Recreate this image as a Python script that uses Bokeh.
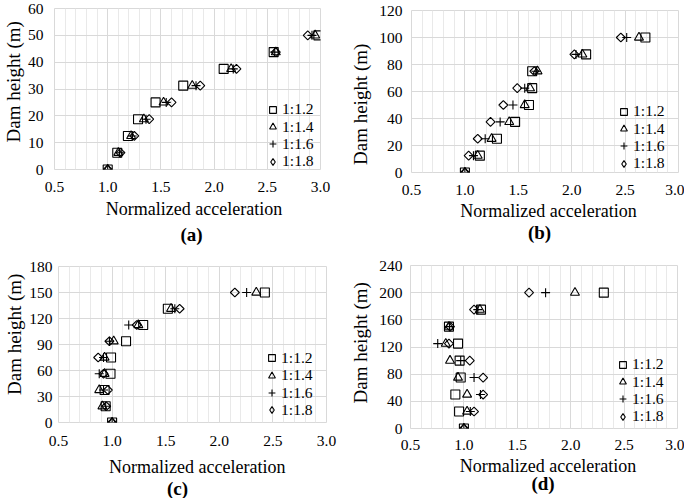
import math
from bokeh.plotting import figure
from bokeh.models import (FixedTicker, NumeralTickFormatter, Legend, LegendItem,
                          Label, Title, ColumnDataSource)
from bokeh.layouts import column, row
from bokeh.embed import file_html
from bokeh.resources import INLINE

FONT = "Liberation Serif"

series_labels = ["1:1.2", "1:1.4", "1:1.6", "1:1.8"]
x_ticks = [0.5, 1.0, 1.5, 2.0, 2.5, 3.0]
x_label = "Normalized acceleration"
y_label = "Dam height (m)"

# ---- panel (a) ----
height_a = [0, 6.25, 12.5, 18.75, 25, 31.25, 37.5, 43.75, 50]
acc_a_12 = [1.00, 1.09, 1.19, 1.285, 1.45, 1.71, 2.09, 2.56, 2.98]
acc_a_14 = [1.00, 1.10, 1.22, 1.34, 1.525, 1.795, 2.16, 2.58, 2.95]
acc_a_16 = [1.00, 1.11, 1.23, 1.36, 1.55, 1.83, 2.18, 2.57, 2.92]
acc_a_18 = [1.00, 1.12, 1.25, 1.39, 1.60, 1.87, 2.21, 2.58, 2.88]
y_ticks_a = [0, 10, 20, 30, 40, 50, 60]

# ---- panel (b) ----
height_b = [0, 12.5, 25, 37.5, 50, 62.5, 75, 87.5, 100]
acc_b_12 = [1.00, 1.14, 1.30, 1.47, 1.60, 1.63, 1.63, 2.135, 2.69]
acc_b_14 = [1.00, 1.12, 1.25, 1.415, 1.56, 1.61, 1.68, 2.10, 2.63]
acc_b_16 = [1.00, 1.08, 1.19, 1.33, 1.45, 1.56, 1.665, 2.04, 2.515]
acc_b_18 = [1.00, 1.035, 1.12, 1.24, 1.36, 1.49, 1.65, 2.025, 2.46]
y_ticks_b = [0, 20, 40, 60, 80, 100, 120]

# ---- panel (c) ----
height_c = [0, 18.75, 37.5, 56.25, 75, 93.75, 112.5, 131.25, 150]
acc_c_12 = [1.00, 0.94, 0.93, 0.985, 0.99, 1.13, 1.29, 1.52, 2.425]
acc_c_14 = [1.00, 0.91, 0.88, 0.93, 0.93, 1.015, 1.245, 1.55, 2.345]
acc_c_16 = [1.00, 0.94, 0.92, 0.88, 0.92, 0.975, 1.155, 1.585, 2.255]
acc_c_18 = [1.00, 0.945, 0.96, 0.92, 0.87, 0.975, 1.23, 1.63, 2.145]
y_ticks_c = [0, 30, 60, 90, 120, 150, 180]

# ---- panel (d) ----
height_d = [0, 25, 50, 75, 100, 125, 150, 175, 200]
acc_d_12 = [1.00, 0.955, 0.92, 0.97, 0.96, 0.945, 0.86, 1.16, 2.31]
acc_d_14 = [1.00, 1.03, 1.03, 0.945, 0.87, 0.83, 0.86, 1.15, 2.04]
acc_d_16 = [1.00, 1.06, 1.155, 1.095, 0.97, 0.755, 0.865, 1.13, 1.765]
acc_d_18 = [1.00, 1.095, 1.18, 1.18, 1.055, 0.86, 0.87, 1.095, 1.61]
y_ticks_d = [0, 40, 80, 120, 160, 200, 240]

minor_x = [round(0.5 + 0.1 * i, 1) for i in range(26)]

MARKERS = [dict(marker="square", size=9, angle=0.0),
           dict(marker="triangle", size=9, angle=0.0),
           dict(marker="cross", size=9, angle=0.0),
           dict(marker="square", size=6.3, angle=math.pi / 4)]

LEG_PITCH = 17.3
LEG_FONT = "15.6px"


def strip(w, h, texts):
    """A plain figure used only to hold the texts under each chart.
    In the column its frame is aligned with the chart frame above it, so the
    x positions below are measured from the chart frame's left edge."""
    s = figure(width=w, height=h, x_range=(0, 1), y_range=(0, 1),
               output_backend="svg", toolbar_location=None, min_border=0,
               x_axis_type=None, y_axis_type=None)
    s.outline_line_color = None
    s.background_fill_color = "white"
    s.border_fill_color = "white"
    for (x, y, text, size, bold) in texts:
        s.add_layout(Label(x=x, y=y, x_units="screen", y_units="screen", text=text,
                           text_align="center", text_baseline="middle",
                           text_font=FONT, text_font_size=size, text_color="black",
                           text_font_style="bold" if bold else "normal"))
    return s


def main_plot(heights, series, y_ticks, fig_w, fig_h, left, top, fw, fh,
              tick_sy, tick_sx, ytitle_standoff, ytitle_offset, leg_x, leg_bottom):
    p = figure(width=fig_w, height=fig_h, x_range=(0.5, 3.0),
               y_range=(y_ticks[0], y_ticks[-1]), output_backend="svg",
               toolbar_location=None,
               min_border_left=left, min_border_top=top,
               min_border_right=fig_w - left - fw,
               min_border_bottom=fig_h - top - fh)
    p.background_fill_color = "white"
    p.border_fill_color = "white"
    p.outline_line_color = "#d9d9d9"
    p.outline_line_width = 1

    xt = FixedTicker(ticks=x_ticks, minor_ticks=minor_x)
    yt = FixedTicker(ticks=y_ticks)
    p.xaxis.ticker = xt
    p.yaxis.ticker = yt
    p.xgrid.ticker = xt
    p.ygrid.ticker = yt
    p.xaxis.formatter = NumeralTickFormatter(format="0.0")
    p.xgrid.grid_line_color = "#d9d9d9"
    p.xgrid.minor_grid_line_color = "#e9e9e9"
    p.ygrid.grid_line_color = "#d9d9d9"

    for ax in (p.xaxis, p.yaxis):
        ax.axis_line_color = None
        ax.major_tick_line_color = None
        ax.minor_tick_line_color = None
        ax.major_tick_out = 0
        ax.major_tick_in = 0
        ax.major_label_text_font = FONT
        ax.major_label_text_font_size = "15.5px"
        ax.major_label_text_color = "black"
    p.xaxis.major_label_standoff = tick_sx
    p.yaxis.major_label_standoff = tick_sy

    p.add_layout(Title(text=y_label, align="left", offset=ytitle_offset,
                       standoff=ytitle_standoff, text_font=FONT,
                       text_font_size="19px", text_font_style="normal",
                       text_color="black"), "left")

    for i, (lab, vals, mk) in enumerate(zip(series_labels, series, MARKERS)):
        src = ColumnDataSource(dict(x=vals, y=heights))
        r = p.scatter("x", "y", source=src, marker=mk["marker"], size=mk["size"],
                      angle=mk["angle"], fill_alpha=0, line_color="black",
                      line_width=1.1)
        if i == 3:
            # legend swatch for the diamond series (legend glyphs ignore angle)
            r = p.scatter("x", "y", source=src, marker="diamond", size=9,
                          fill_alpha=0, line_color="black", line_width=1.1,
                          visible=False)
        # one single-row legend per series, so the row pitch can be tight
        leg = Legend(items=[LegendItem(label=lab, renderers=[r])],
                     location=(leg_x, leg_bottom + (3 - i) * LEG_PITCH - 9.5),
                     border_line_color=None, background_fill_alpha=0,
                     padding=0, margin=0, spacing=0,
                     glyph_width=17, glyph_height=17, label_height=17,
                     label_standoff=1, label_text_font=FONT,
                     label_text_font_size=LEG_FONT, label_text_color="black",
                     inactive_fill_alpha=0)
        p.add_layout(leg)
    return p


def panel(tag, heights, series, y_ticks, W, H, left, top, fw, fh, bottom,
          tick_sy, tick_sx, yt_standoff, yt_offset, leg_x, leg_bottom, xlab, tagpos):
    hm = top + fh + bottom
    main = main_plot(heights, series, y_ticks, W, hm, left, top, fw, fh,
                     tick_sy, tick_sx, yt_standoff, yt_offset, leg_x, leg_bottom)
    xs = strip(W, H - hm, [(xlab[0], xlab[1], x_label, "18px", False),
                           (tagpos[0], tagpos[1], tag, "19px", True)])
    return column(main, xs)


# xlab/tag: (x from chart frame's left edge, y from panel bottom)
pa = panel("(a)", height_a, [acc_a_12, acc_a_14, acc_a_16, acc_a_18], y_ticks_a,
           340, 250, 51, 8, 269, 161, 30, 11, 8, 1, 27, 210, 8.3,
           (139.5, 41.7), (137, 16))
pb = panel("(b)", height_b, [acc_b_12, acc_b_14, acc_b_16, acc_b_18], y_ticks_b,
           344, 250, 71, 10, 267, 162, 30, 9, 8, 11, 7.5, 204, 9.3,
           (137, 39.7), (128, 18.3))
pc = panel("(c)", height_c, [acc_c_12, acc_c_14, acc_c_16, acc_c_18], y_ticks_c,
           340, 248, 56, 16, 270, 156, 30, 6, 9, 3, 27.5, 205, 12.7,
           (138.7, 31.3), (119, 10))
pd = panel("(d)", height_d, [acc_d_12, acc_d_14, acc_d_16, acc_d_18], y_ticks_d,
           344, 248, 70, 15, 267, 163, 29, 8, 7, 11, 25, 204, 12.3,
           (137.5, 32.5), (132.5, 15.5))

layout = column(row(pa, pb), row(pc, pd))

with open("out.html", "w") as f:
    f.write(file_html(layout, INLINE))
